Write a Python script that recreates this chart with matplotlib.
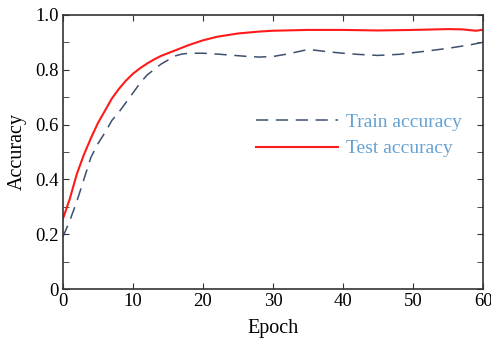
import numpy as np
import matplotlib.pyplot as plt
from matplotlib.ticker import MultipleLocator, FuncFormatter

plt.rcParams['font.family'] = ['Liberation Serif', 'DejaVu Serif']

# values
epoch_train = [0, 1, 2, 3, 4, 5, 6, 7, 8, 9, 10, 11, 12, 13, 14, 15, 16, 17, 18, 20,
               22, 24, 26, 28, 30, 32, 34, 35, 36, 38, 40, 42, 45, 48, 50, 52, 55, 58, 60]
train_acc = [0.19, 0.25, 0.32, 0.40, 0.48, 0.53, 0.57, 0.615, 0.645, 0.68, 0.715, 0.75, 0.78,
             0.80, 0.82, 0.835, 0.85, 0.857, 0.86, 0.86, 0.857, 0.853, 0.849, 0.846, 0.848,
             0.857, 0.868, 0.874, 0.871, 0.865, 0.86, 0.856, 0.852, 0.856, 0.862, 0.868,
             0.878, 0.89, 0.9]

epoch_test = [0, 1, 2, 3, 4, 5, 6, 7, 8, 9, 10, 11, 12, 13, 14, 16, 18, 20, 22, 25,
              28, 30, 35, 40, 45, 50, 55, 57, 59, 60]
test_acc = [0.255, 0.33, 0.42, 0.49, 0.55, 0.605, 0.65, 0.695, 0.73, 0.76, 0.785, 0.805,
            0.822, 0.837, 0.85, 0.87, 0.89, 0.907, 0.92, 0.932, 0.939, 0.942, 0.945, 0.945,
            0.943, 0.945, 0.948, 0.947, 0.942, 0.946]

fig = plt.figure(figsize=(4.91, 3.45), dpi=100)
ax = fig.add_axes([0.128, 0.162, 0.856, 0.795])

ax.plot(epoch_train, train_acc, color='#3d4f6e', lw=1.1, dashes=(8, 5), label='Train accuracy')
ax.plot(epoch_test, test_acc, color='#ff1a1a', lw=1.5, label='Test accuracy')

ax.set_xlim(0, 60)
ax.set_ylim(0, 1.0)
ax.xaxis.set_major_locator(MultipleLocator(10))
ax.yaxis.set_major_locator(MultipleLocator(0.2))
ax.yaxis.set_minor_locator(MultipleLocator(0.1))
ax.yaxis.set_major_formatter(FuncFormatter(lambda v, p: '0' if abs(v) < 1e-9 else '%.1f' % v))
ax.tick_params(which='both', direction='in', top=True, right=True, labelsize=13.5, pad=3,
               color='#333333')
ax.tick_params(which='major', length=4)
ax.tick_params(which='minor', length=4)
for s in ax.spines.values():
    s.set_linewidth(1.2)
    s.set_color('#333333')

ax.set_xlabel('Epoch', fontsize=14.5, labelpad=6)
ax.set_ylabel('Accuracy', fontsize=14.5, labelpad=6)

leg = ax.legend(loc='upper left', bbox_to_anchor=(0.419, 0.704), frameon=False, fontsize=14,
                handlelength=4.2, handletextpad=0.4, labelspacing=0.45)
for t in leg.get_texts():
    t.set_color('#64a2d4')

fig.savefig('out.png', dpi=100)
